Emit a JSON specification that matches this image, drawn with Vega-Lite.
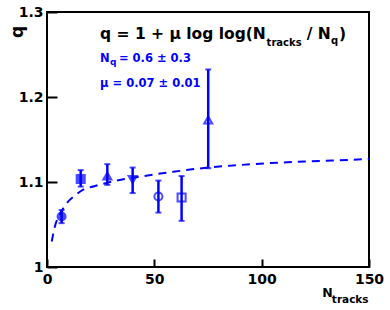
{
  "$schema": "https://vega.github.io/schema/vega-lite/v6.json",
  "width": 322,
  "height": 255,
  "autosize": {"type": "none"},
  "padding": {"left": 47, "top": 12, "right": 21, "bottom": 43},
  "background": "white",
  "config": {
    "view": {"stroke": "black", "strokeWidth": 2},
    "font": "DejaVu Sans"
  },
  "datasets": {
    "points": [
      {"series": "A", "N": 6.8, "q": 1.0594, "lo": 1.0516, "hi": 1.067},
      {"series": "B", "N": 15.7, "q": 1.1036, "lo": 1.0946, "hi": 1.114},
      {"series": "C", "N": 28.1, "q": 1.107, "lo": 1.0966, "hi": 1.121},
      {"series": "D", "N": 39.9, "q": 1.103, "lo": 1.087, "hi": 1.117},
      {"series": "E", "N": 51.9, "q": 1.083, "lo": 1.064, "hi": 1.1017},
      {"series": "F", "N": 62.7, "q": 1.0817, "lo": 1.0543, "hi": 1.107},
      {"series": "G", "N": 75.1, "q": 1.1729, "lo": 1.1162, "hi": 1.2324}
    ],
    "fit": [
      {"N": 2.2, "q": 1.03},
      {"N": 3.7, "q": 1.048},
      {"N": 6, "q": 1.062},
      {"N": 9.2, "q": 1.075},
      {"N": 13, "q": 1.084},
      {"N": 16.9, "q": 1.091},
      {"N": 22, "q": 1.095},
      {"N": 27.8, "q": 1.099},
      {"N": 35, "q": 1.103},
      {"N": 45, "q": 1.107},
      {"N": 58.8, "q": 1.112},
      {"N": 75, "q": 1.117},
      {"N": 90, "q": 1.12},
      {"N": 102, "q": 1.122},
      {"N": 120, "q": 1.124},
      {"N": 135, "q": 1.1255},
      {"N": 150, "q": 1.127}
    ],
    "formula": [
      {"N": 24.7, "q": 1.2688, "t": "q = 1 + μ log log(N"},
      {"N": 121, "q": 1.2688, "t": "/ N"},
      {"N": 136, "q": 1.2688, "t": ")"}
    ],
    "formulaSub": [
      {"N": 102.3, "q": 1.2601, "t": "tracks"},
      {"N": 132.3, "q": 1.2625, "t": "q"}
    ],
    "params": [
      {"N": 24.7, "q": 1.2406, "t": "N"},
      {"N": 33.5, "q": 1.2406, "t": "= 0.6 ± 0.3"},
      {"N": 24.7, "q": 1.212, "t": "μ = 0.07 ± 0.01"}
    ],
    "paramsSub": [
      {"N": 29.3, "q": 1.2374, "t": "q"}
    ],
    "xSub": [
      {"N": 132.7, "q": 0.958, "t": "tracks"}
    ]
  },
  "layer": [
    {
      "data": {"name": "fit"},
      "mark": {"type": "line", "color": "#0000ff", "strokeWidth": 2, "strokeDash": [8, 6], "interpolate": "monotone"},
      "encoding": {
        "x": {
          "field": "N", "type": "quantitative",
          "scale": {"domain": [0, 150], "nice": false, "zero": false},
          "axis": {
            "title": "N",
            "values": [0, 50, 100, 150],
            "tickSize": -8,
            "tickColor": "black",
            "tickWidth": 2,
            "domain": false,
            "grid": false,
            "labelFont": "DejaVu Sans",
            "labelFontWeight": "bold",
            "labelFontSize": 14,
            "labelColor": "black",
            "labelPadding": 13,
            "labelFlush": false,
            "labelOverlap": false,
            "titleFont": "DejaVu Sans",
            "titleFontWeight": "bold",
            "titleFontSize": 12.5,
            "titleColor": "black",
            "titleX": 280,
            "titleY": 29.4,
            "titleAlign": "center",
            "titleBaseline": "alphabetic"
          }
        },
        "y": {
          "field": "q", "type": "quantitative",
          "scale": {"domain": [1, 1.3], "nice": false, "zero": false},
          "axis": {
            "title": "q",
            "values": [1, 1.1, 1.2, 1.3],
            "labelExpr": "datum.value == 1 ? '1' : format(datum.value, '.1f')",
            "tickSize": -10,
            "tickColor": "black",
            "tickWidth": 2,
            "domain": false,
            "grid": false,
            "labelFont": "DejaVu Sans",
            "labelFontWeight": "bold",
            "labelFontSize": 14,
            "labelColor": "black",
            "labelPadding": 14,
            "labelFlush": false,
            "labelOverlap": false,
            "titleFont": "DejaVu Sans",
            "titleFontWeight": "bold",
            "titleFontSize": 17,
            "titleColor": "black",
            "titleAngle": 270,
            "titleX": -29.5,
            "titleY": 19.5,
            "titleAlign": "center",
            "titleBaseline": "middle"
          }
        }
      }
    },
    {
      "data": {"name": "points"},
      "mark": {"type": "point", "stroke": "#0000ff", "fill": "#0000ff", "strokeWidth": 2, "size": 65, "filled": false},
      "encoding": {
        "x": {"field": "N", "type": "quantitative", "scale": {"domain": [0, 150], "nice": false, "zero": false}},
        "y": {"field": "q", "type": "quantitative", "scale": {"domain": [1, 1.3], "nice": false, "zero": false}},
        "shape": {
          "field": "series", "type": "nominal", "legend": null,
          "scale": {"domain": ["A", "B", "C", "D", "E", "F", "G"], "range": ["circle", "square", "triangle-up", "triangle-down", "circle", "square", "triangle-up"]}
        },
        "fillOpacity": {
          "field": "series", "type": "nominal", "legend": null,
          "scale": {"type": "ordinal", "domain": ["A", "B", "C", "D", "E", "F", "G"], "range": [1, 1, 1, 1, 0, 0, 0]}
        }
      }
    },
    {
      "data": {"name": "points"},
      "mark": {"type": "rule", "color": "#0000ff", "strokeWidth": 2.5},
      "encoding": {
        "x": {"field": "N", "type": "quantitative", "scale": {"domain": [0, 150], "nice": false, "zero": false}},
        "y": {"field": "lo", "type": "quantitative", "scale": {"domain": [1, 1.3], "nice": false, "zero": false}},
        "y2": {"field": "hi"}
      }
    },
    {
      "data": {"name": "points"},
      "mark": {"type": "tick", "color": "#0000ff", "orient": "horizontal", "size": 6, "thickness": 2},
      "encoding": {
        "x": {"field": "N", "type": "quantitative", "scale": {"domain": [0, 150], "nice": false, "zero": false}},
        "y": {"field": "lo", "type": "quantitative", "scale": {"domain": [1, 1.3], "nice": false, "zero": false}}
      }
    },
    {
      "data": {"name": "points"},
      "mark": {"type": "tick", "color": "#0000ff", "orient": "horizontal", "size": 6, "thickness": 2},
      "encoding": {
        "x": {"field": "N", "type": "quantitative", "scale": {"domain": [0, 150], "nice": false, "zero": false}},
        "y": {"field": "hi", "type": "quantitative", "scale": {"domain": [1, 1.3], "nice": false, "zero": false}}
      }
    },
    {
      "data": {"name": "formula"},
      "mark": {"type": "text", "font": "DejaVu Sans", "fontWeight": "bold", "fontSize": 15.5, "color": "black", "align": "left", "baseline": "alphabetic"},
      "encoding": {
        "x": {"field": "N", "type": "quantitative", "scale": {"domain": [0, 150], "nice": false, "zero": false}},
        "y": {"field": "q", "type": "quantitative", "scale": {"domain": [1, 1.3], "nice": false, "zero": false}},
        "text": {"field": "t"}
      }
    },
    {
      "data": {"name": "formulaSub"},
      "mark": {"type": "text", "font": "DejaVu Sans", "fontWeight": "bold", "fontSize": 10, "color": "black", "align": "left", "baseline": "alphabetic"},
      "encoding": {
        "x": {"field": "N", "type": "quantitative", "scale": {"domain": [0, 150], "nice": false, "zero": false}},
        "y": {"field": "q", "type": "quantitative", "scale": {"domain": [1, 1.3], "nice": false, "zero": false}},
        "text": {"field": "t"}
      }
    },
    {
      "data": {"name": "params"},
      "mark": {"type": "text", "font": "DejaVu Sans", "fontWeight": "bold", "fontSize": 11.5, "color": "#0000ff", "align": "left", "baseline": "alphabetic"},
      "encoding": {
        "x": {"field": "N", "type": "quantitative", "scale": {"domain": [0, 150], "nice": false, "zero": false}},
        "y": {"field": "q", "type": "quantitative", "scale": {"domain": [1, 1.3], "nice": false, "zero": false}},
        "text": {"field": "t"}
      }
    },
    {
      "data": {"name": "paramsSub"},
      "mark": {"type": "text", "font": "DejaVu Sans", "fontWeight": "bold", "fontSize": 9, "color": "#0000ff", "align": "left", "baseline": "alphabetic"},
      "encoding": {
        "x": {"field": "N", "type": "quantitative", "scale": {"domain": [0, 150], "nice": false, "zero": false}},
        "y": {"field": "q", "type": "quantitative", "scale": {"domain": [1, 1.3], "nice": false, "zero": false}},
        "text": {"field": "t"}
      }
    },
    {
      "data": {"name": "xSub"},
      "mark": {"type": "text", "font": "DejaVu Sans", "fontWeight": "bold", "fontSize": 10.5, "color": "black", "align": "left", "baseline": "alphabetic"},
      "encoding": {
        "x": {"field": "N", "type": "quantitative", "scale": {"domain": [0, 150], "nice": false, "zero": false}},
        "y": {"field": "q", "type": "quantitative", "scale": {"domain": [1, 1.3], "nice": false, "zero": false}},
        "text": {"field": "t"}
      }
    }
  ]
}
